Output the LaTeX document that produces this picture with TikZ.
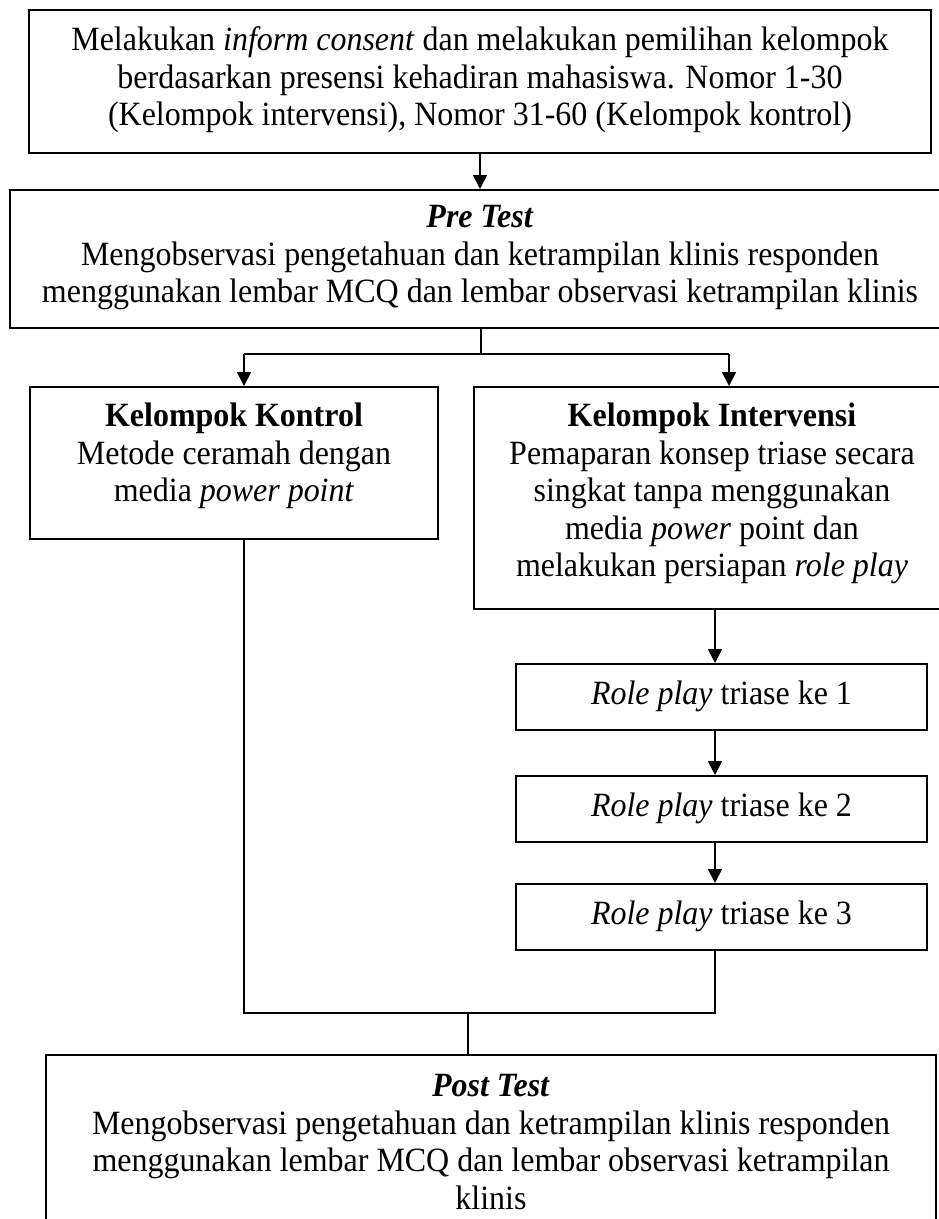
\documentclass[tikz,border=0pt]{standalone}
\usepackage{fontspec}
\setmainfont{Liberation Serif}[FakeStretch=0.94]
\usetikzlibrary{arrows.meta}
\newcommand\mytop[1]{\rule{0pt}{#1pt}}
\newcommand\mybot[1]{\rule[-#1pt]{0pt}{#1pt}}
\begin{document}
\begin{tikzpicture}[x=1pt,y=-1pt,
  box/.style={draw, line width=1.7pt, align=center, inner xsep=0pt, inner ysep=0pt,
    font=\fontsize{34}{37.5}\selectfont, anchor=north},
  rpbox/.style={draw, line width=1.7pt, align=center, inner sep=0pt,
    font=\fontsize{34}{37.5}\selectfont, minimum width=411pt, minimum height=66pt, anchor=north},
  arr/.style={line width=1.7pt, -{Triangle[length=14pt,width=14pt]}},
  joinline/.style={line width=1.3pt}]
\useasboundingbox (0,0) rectangle (938,1219);

\node[box, minimum width=902pt] (b1) at (480,9)
  {\mytop{41}Melakukan \textit{inform consent} dan melakukan pemilihan kelompok\\
   berdasarkan presensi kehadiran mahasiswa. Nomor 1-30\\
   (Kelompok intervensi), Nomor 31-60 (Kelompok kontrol)\mybot{27}};

\node[box, minimum width=940pt] (b2) at (480,189)
  {\mytop{38}\textbf{\textit{Pre Test}}\\
   Mengobservasi pengetahuan dan ketrampilan klinis responden\\
   menggunakan lembar MCQ dan lembar observasi ketrampilan klinis\mybot{25}};

\node[box, minimum width=408pt] (ko) at (234,386)
  {\mytop{40}\textbf{Kelompok Kontrol}\\
   Metode ceramah dengan\\
   media \textit{power point}\mybot{37}};

\node[box, minimum width=476pt] (iv) at (712,386)
  {\mytop{40}\textbf{Kelompok Intervensi}\\
   Pemaparan konsep triase secara\\
   singkat tanpa menggunakan\\
   media \textit{power} point dan\\
   melakukan persiapan \textit{role play}\mybot{32}};

\node[rpbox] (r1) at (721.5,663) {\textit{Role play} triase ke 1};
\node[rpbox] (r2) at (721.5,775) {\textit{Role play} triase ke 2};
\node[rpbox] (r3) at (721.5,883) {\textit{Role play} triase ke 3};

\node[box, line width=1.5pt, minimum width=890pt] (po) at (491,1054)
  {\mytop{42}\textbf{\textit{Post Test}}\\
   Mengobservasi pengetahuan dan ketrampilan klinis responden\\
   menggunakan lembar MCQ dan lembar observasi ketrampilan\\
   klinis\mybot{60}};

\coordinate (sp) at (481,354);
\coordinate (spl) at (244,354);
\coordinate (spr) at (729,354);
\coordinate (ax) at (715,0);
\coordinate (mg) at (468,1013);

\draw[arr] (b1.south) -- (b1.south |- b2.north);
\draw[line width=1.7pt] (sp |- b2.south) -- (sp);
\draw[line width=1.7pt] (spl) -- (spr);
\draw[arr] (spl) -- (spl |- ko.north);
\draw[arr] (spr) -- (spr |- iv.north);
\draw[arr] (ax |- iv.south) -- (ax |- r1.north);
\draw[arr] (ax |- r1.south) -- (ax |- r2.north);
\draw[arr] (ax |- r2.south) -- (ax |- r3.north);
\draw[joinline] (spl |- ko.south) -- (spl |- mg) -- (ax |- mg) -- (ax |- r3.south);
\draw[joinline] (mg) -- (mg |- po.north);
\end{tikzpicture}
\end{document}
